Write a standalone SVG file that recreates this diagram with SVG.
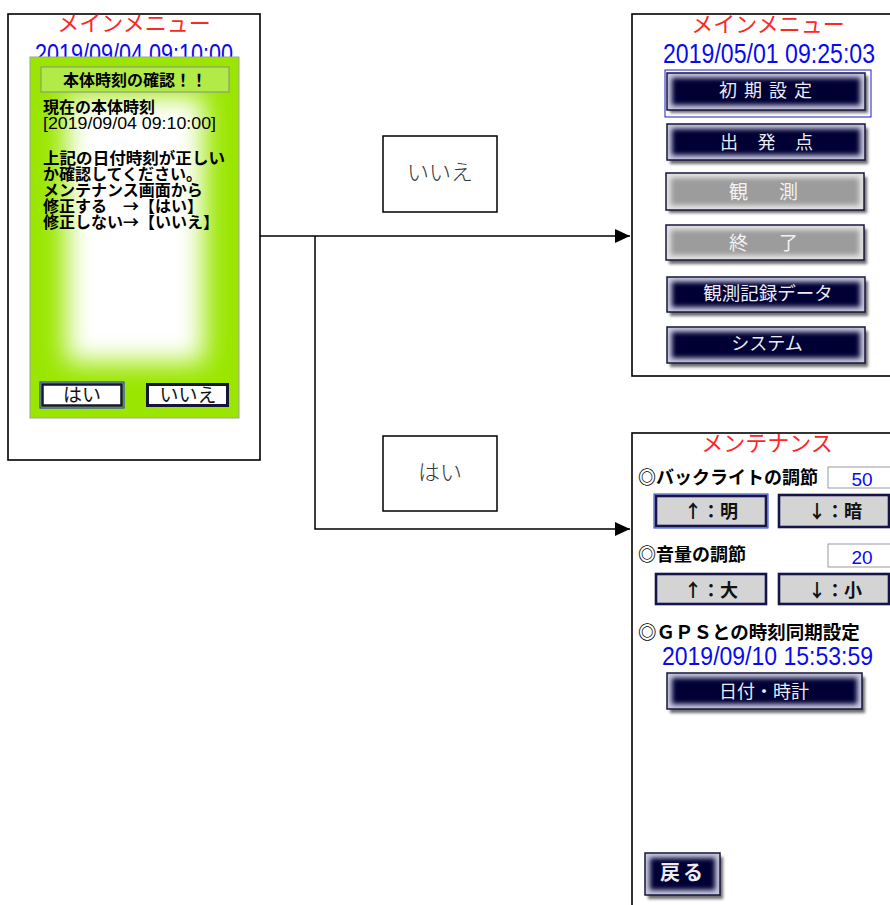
<svg xmlns="http://www.w3.org/2000/svg" width="890" height="905" viewBox="0 0 890 905">
  <defs>
    <style>
      .frame { fill: #fff; stroke: #000; stroke-width: 1.6; }
      .title { font-family: "Noto Sans CJK JP", sans-serif; font-size: 22px; fill: #ff2626; text-anchor: middle; }
      .date { font-family: "Liberation Sans", "Noto Sans CJK JP", sans-serif; fill: #0a0aee; }
      .body { font-family: "Noto Sans CJK JP", sans-serif; font-size: 16px; font-weight: bold; fill: #000; }
      .lbl { font-family: "Noto Sans CJK JP", sans-serif; font-weight: bold; fill: #000; }
      .btn-txt { font-family: "Noto Sans CJK JP", sans-serif; fill: #ececf4; }
      .gbtn-txt { font-family: "Noto Sans CJK JP", sans-serif; font-size: 19px; fill: #f2f2f2; }
      .lbtn-txt { font-family: "Noto Sans CJK JP", sans-serif; font-size: 18px; fill: #111; text-anchor: middle; }
      .edge-lbl { fill: #fff; stroke: #000; stroke-width: 1.5; }
      .edge-txt { font-family: "Noto Sans CJK JP", sans-serif; font-size: 22px; font-weight: 300; fill: #333; text-anchor: middle; }
      .shd { fill: #3a3a3a; opacity: 0.75; }
      .btn-face { fill: #c8c8de; stroke: #16163c; stroke-width: 1.5; }
      .btn-core { fill: #000034; }
      .gbtn-face { fill: #e2e2e2; stroke: #16163c; stroke-width: 1.5; }
      .gbtn-core { fill: #9c9c9c; }
      .val { fill: #fff; stroke: #9a9a9a; stroke-width: 1; }
      .val-txt { font-family: "Liberation Sans", sans-serif; font-size: 19px; fill: #0a0aee; text-anchor: middle; }
      .tbtn { fill: #d4d4d4; stroke: #15154a; stroke-width: 2.6; }
      .conn { fill: none; stroke: #000; stroke-width: 1.5; }
    </style>
    <filter id="glow" x="-30%" y="-80%" width="160%" height="260%">
      <feGaussianBlur stdDeviation="2.6"/>
    </filter>
    <filter id="soft" x="-20%" y="-60%" width="140%" height="220%">
      <feGaussianBlur stdDeviation="1.4"/>
    </filter>
    <filter id="haze" x="-50%" y="-50%" width="200%" height="200%">
      <feGaussianBlur stdDeviation="13"/>
    </filter>
    <clipPath id="panelClip">
      <rect x="30" y="57" width="209" height="361"/>
    </clipPath>
    <marker id="arrow" markerWidth="16" markerHeight="14" refX="15" refY="7" orient="auto" markerUnits="userSpaceOnUse">
      <polygon points="0,0 15,7 0,14" fill="#000"/>
    </marker>
  </defs>

  <rect width="890" height="905" fill="#fff"/>

  <!-- connectors -->
  <g id="connectors">
    <path class="conn" d="M260,236 H630" marker-end="url(#arrow)"/>
    <path class="conn" d="M315,236 V529 H630" marker-end="url(#arrow)"/>
  </g>

  <!-- edge labels -->
  <g id="label-no">
    <rect class="edge-lbl" x="383" y="136" width="114" height="76"/>
    <text class="edge-txt" x="440" y="180">いいえ</text>
  </g>
  <g id="label-yes">
    <rect class="edge-lbl" x="383" y="436" width="114" height="75"/>
    <text class="edge-txt" x="440" y="480">はい</text>
  </g>

  <!-- confirmation screen -->
  <g id="confirm-screen">
    <rect class="frame" x="8" y="14" width="252" height="446"/>
    <text class="title" x="134" y="31">メインメニュー</text>
    <text class="date" x="35" y="63" font-size="27" textLength="198" lengthAdjust="spacingAndGlyphs">2019/09/04 09:10:00</text>
    <g clip-path="url(#panelClip)">
      <rect x="30" y="57" width="209" height="361" fill="#9ae600"/>
      <rect x="66" y="96" width="138" height="266" fill="#fff" filter="url(#haze)"/>
    </g>
    <rect x="30" y="57" width="209" height="361" fill="none" stroke="#a0a0a0" stroke-width="1"/>
    <rect x="41" y="67" width="188" height="25" fill="#b2ea48" stroke="#8c8c8c" stroke-width="1"/>
    <text class="body" x="135" y="86" text-anchor="middle">本体時刻の確認！！</text>
    <text class="body" x="43" y="113">現在の本体時刻</text>
    <text x="43" y="129" font-family="Liberation Sans, sans-serif" font-size="17" textLength="173" lengthAdjust="spacingAndGlyphs">[2019/09/04 09:10:00]</text>
    <text class="body" x="43" y="164" textLength="182" lengthAdjust="spacingAndGlyphs">上記の日付時刻が正しい</text>
    <text class="body" x="43" y="180">か確認してください。</text>
    <text class="body" x="43" y="196">メンテナンス画面から</text>
    <text class="body" x="43" y="212">修正する　→【はい】</text>
    <text class="body" x="43" y="228">修正しない→【いいえ】</text>
    <g id="btn-yes">
      <rect x="40" y="382" width="84" height="26" fill="none" stroke="#1a1aff" stroke-width="1"/>
      <rect x="42.5" y="384.5" width="79" height="21" fill="#fff" stroke="#14143c" stroke-width="2.5"/>
      <text class="lbtn-txt" x="82" y="402" style="font-size:19px">はい</text>
    </g>
    <g id="btn-no">
      <rect x="147.5" y="384.5" width="80" height="21" fill="#fff" stroke="#14143c" stroke-width="3"/>
      <text class="lbtn-txt" x="188" y="402" style="font-size:19px">いいえ</text>
    </g>
  </g>

  <!-- main menu screen -->
  <g id="main-menu">
    <rect class="frame" x="632" y="14" width="270" height="362"/>
    <text class="title" x="768" y="32">メインメニュー</text>
    <text class="date" x="663" y="63" font-size="27" textLength="212" lengthAdjust="spacingAndGlyphs">2019/05/01 09:25:03</text>

    <g id="btn-init">
      <rect x="665" y="70" width="206" height="47" fill="none" stroke="#1a1ad0" stroke-width="1"/>
      <rect class="shd" x="670" y="76" width="198" height="37" filter="url(#soft)"/>
      <rect class="btn-face" x="667" y="73" width="198" height="37"/>
      <rect class="btn-core" x="672" y="78" width="188" height="27" filter="url(#glow)"/>
      <text class="btn-txt" x="719" y="97" font-size="18" letter-spacing="7">初期設定</text>
    </g>
    <g id="btn-start">
      <rect class="shd" x="670" y="128" width="198" height="36" filter="url(#soft)"/>
      <rect class="btn-face" x="667" y="124" width="198" height="36"/>
      <rect class="btn-core" x="672" y="129" width="188" height="26" filter="url(#glow)"/>
      <text class="btn-txt" x="720" y="149" font-size="18" letter-spacing="19.5">出発点</text>
    </g>
    <g id="btn-observe">
      <rect class="shd" x="669" y="177" width="198" height="36" filter="url(#soft)"/>
      <rect class="gbtn-face" x="666" y="173" width="198" height="37"/>
      <rect class="gbtn-core" x="671" y="178" width="188" height="27" filter="url(#glow)"/>
      <text class="gbtn-txt" x="729" y="199" letter-spacing="31">観測</text>
    </g>
    <g id="btn-end">
      <rect class="shd" x="669" y="229" width="198" height="35" filter="url(#soft)"/>
      <rect class="gbtn-face" x="666" y="225" width="198" height="35"/>
      <rect class="gbtn-core" x="671" y="230" width="188" height="25" filter="url(#glow)"/>
      <text class="gbtn-txt" x="729" y="250" letter-spacing="31">終了</text>
    </g>
    <g id="btn-records">
      <rect class="shd" x="670" y="281" width="198" height="35" filter="url(#soft)"/>
      <rect class="btn-face" x="667" y="277" width="198" height="35"/>
      <rect class="btn-core" x="672" y="282" width="188" height="25" filter="url(#glow)"/>
      <text class="btn-txt" x="768" y="300" font-size="18.5" text-anchor="middle">観測記録データ</text>
    </g>
    <g id="btn-system">
      <rect class="shd" x="670" y="331" width="198" height="36" filter="url(#soft)"/>
      <rect class="btn-face" x="667" y="327" width="198" height="36"/>
      <rect class="btn-core" x="672" y="332" width="188" height="26" filter="url(#glow)"/>
      <text class="btn-txt" x="767" y="350" font-size="18" text-anchor="middle">システム</text>
    </g>
  </g>

  <!-- maintenance screen -->
  <g id="maintenance">
    <rect class="frame" x="632" y="433" width="270" height="490"/>
    <text class="title" x="767" y="451">メンテナンス</text>

    <text class="lbl" x="638" y="484" font-size="18">◎バックライトの調節</text>
    <rect class="val" x="828" y="467" width="70" height="21"/>
    <text class="val-txt" x="862" y="486">50</text>
    <g id="btn-bright">
      <rect x="654" y="494" width="114" height="34" fill="none" stroke="#1f3ad0" stroke-width="1"/>
      <rect class="tbtn" x="656" y="496" width="110" height="30" stroke="#122a8a"/>
      <text class="lbtn-txt" x="711" y="518" font-weight="bold">↑：明</text>
    </g>
    <g id="btn-dark">
      <rect class="tbtn" x="779" y="495" width="110" height="32"/>
      <text class="lbtn-txt" x="835" y="518" font-weight="bold">↓：暗</text>
    </g>

    <text class="lbl" x="638" y="561" font-size="18">◎音量の調節</text>
    <rect class="val" x="828" y="544" width="70" height="23"/>
    <text class="val-txt" x="862" y="564">20</text>
    <g id="btn-louder">
      <rect class="tbtn" x="656" y="574" width="110" height="30"/>
      <text class="lbtn-txt" x="711" y="597" font-weight="bold">↑：大</text>
    </g>
    <g id="btn-quieter">
      <rect class="tbtn" x="779" y="574" width="110" height="30"/>
      <text class="lbtn-txt" x="835" y="597" font-weight="bold">↓：小</text>
    </g>

    <text class="lbl" x="638" y="639" font-size="18.5">◎ＧＰＳとの時刻同期設定</text>
    <text class="date" x="662" y="665" font-size="25" textLength="211" lengthAdjust="spacingAndGlyphs">2019/09/10 15:53:59</text>

    <g id="btn-datetime">
      <rect class="shd" x="670" y="677" width="195" height="36" filter="url(#soft)"/>
      <rect class="btn-face" x="667" y="673" width="195" height="36"/>
      <rect class="btn-core" x="672" y="678" width="185" height="26" filter="url(#glow)"/>
      <text class="btn-txt" x="764" y="698" font-size="18" text-anchor="middle">日付・時計</text>
    </g>
    <g id="btn-back">
      <rect class="shd" x="648" y="857" width="75" height="42" filter="url(#soft)"/>
      <rect class="btn-face" x="645" y="853" width="75" height="42"/>
      <rect class="btn-core" x="650" y="858" width="65" height="32" filter="url(#glow)"/>
      <text class="btn-txt" x="660" y="880" font-size="20" font-weight="bold" letter-spacing="3">戻る</text>
    </g>
  </g>
</svg>
